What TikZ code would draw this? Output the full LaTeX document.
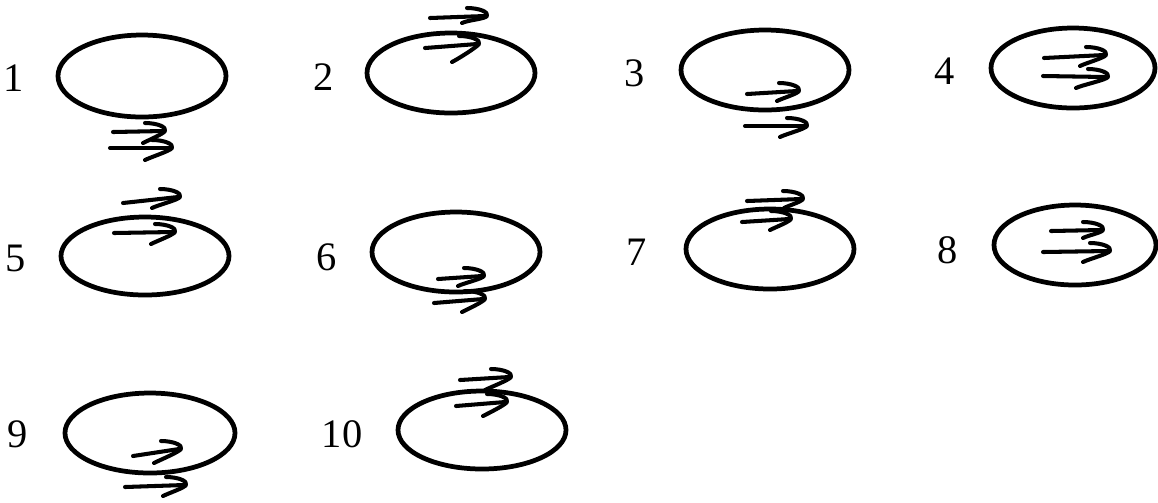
\documentclass[tikz,border=0pt]{standalone}
\usepackage{fontspec}
\setmainfont{Liberation Serif}
\tikzset{
  ell/.style={line width=1.35pt},
  arr/.style={line width=1.15pt, line cap=round, line join=round},
  lbl/.style={font=\fontsize{11.5}{13}\selectfont, inner sep=0pt}
}
\newcommand\harr[6]{%
  \draw[arr] (#1,#2) -- (#3,#4);
  \draw[arr] (#3-18,#4-8) .. controls (#3-6,#4-8) and (#3+4,#4-4) .. (#3+2,#4)
     .. controls (#3,#4+3) and (#5+6,#6-3) .. (#5,#6);}
\begin{document}
\begin{tikzpicture}[x=0.01cm,y=-0.01cm]
\useasboundingbox (0,0) rectangle (1158,502);
% panel 1
\node[lbl] (l1) at (14,78) {1};
\draw[ell] (142,76) ellipse [x radius=84, y radius=41];
\harr{113}{132}{163}{131}{143}{143}
\harr{110}{148}{170}{148}{145}{160}
% panel 2
\node[lbl] (l2) at (324,77) {2};
\draw[ell] (451,73) ellipse [x radius=84, y radius=40];
\harr{430}{18}{485}{16}{462}{23}
\harr{425}{48}{477}{44}{452}{62}
% panel 3
\node[lbl] (l3) at (635,73) {3};
\draw[ell] (765,70) ellipse [x radius=84, y radius=40];
\harr{747}{94}{797}{91}{777}{101}
\harr{745}{126}{805}{126}{780}{137}
% panel 4
\node[lbl] (l4) at (945,71) {4};
\draw[ell] (1073,68) ellipse [x radius=82, y radius=40];
\harr{1044}{58}{1104}{55}{1080}{66}
\harr{1043}{76}{1106}{77}{1076}{88}
% panel 5
\node[lbl] (l5) at (16,258) {5};
\draw[ell] (145,256) ellipse [x radius=84, y radius=39];
\harr{123}{203}{178}{197}{152}{208}
\harr{114}{233}{173}{232}{151}{244}
% panel 6
\node[lbl] (l6) at (327,257) {6};
\draw[ell] (456,252) ellipse [x radius=84, y radius=40];
\harr{438}{279}{482}{276}{458}{286}
\harr{434}{303}{483}{299}{462}{312}
% panel 7
\node[lbl] (l7) at (637,252) {7};
\draw[ell] (770,249) ellipse [x radius=84, y radius=40];
\harr{747}{201}{801}{199}{784}{208}
\harr{742}{222}{789}{219}{770}{230}
% panel 8
\node[lbl] (l8) at (948,250) {8};
\draw[ell] (1075,245) ellipse [x radius=81, y radius=40];
\harr{1051}{231}{1101}{230}{1083}{238}
\harr{1043}{252}{1108}{251}{1083}{262}
% panel 9
\node[lbl] (l9) at (18,434) {9};
\draw[ell] (150,433) ellipse [x radius=85, y radius=40];
\harr{133}{456}{179}{449}{154}{463}
\harr{125}{487}{184}{485}{163}{496}
% panel 10
\node[lbl] (l10) at (342,434) {10};
\draw[ell] (482,430) ellipse [x radius=84, y radius=39];
\harr{460}{380}{509}{377}{485}{390}
\harr{456}{406}{505}{402}{483}{416}
\end{tikzpicture}
\end{document}
